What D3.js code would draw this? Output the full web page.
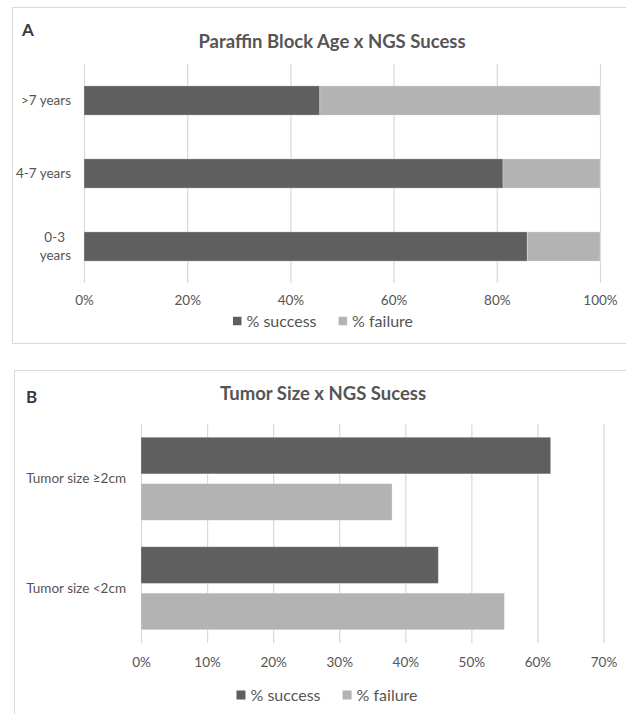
<!DOCTYPE html>
<html>
<head>
<meta charset="utf-8">
<script src="https://cdn.jsdelivr.net/npm/d3@7"></script>
<style>
  html, body { margin: 0; padding: 0; background: #fff; }
  svg { display: block; font-family: Lato, "Open Sans", sans-serif; }
</style>
</head>
<body>
<svg id="chart" width="626" height="714"></svg>
<script>
// ---- Panel A: paraffin block age ----
const ageCategories = [">7 years", "4-7 years", "0-3 years"];
const ageTickLabels = [[">7 years"], ["4-7 years"], ["0-3", "years"]];
const ageSuccess = [45.7, 81.2, 85.9];
const ageFailure = [54.3, 18.8, 14.1];
const ageTicks = [0, 20, 40, 60, 80, 100];

// ---- Panel B: tumor size ----
const sizeCategories = ["Tumor size \u22652cm", "Tumor size <2cm"];
const sizeSuccess = [62, 45];
const sizeFailure = [38, 55];
const sizeTicks = [0, 10, 20, 30, 40, 50, 60, 70];

const seriesNames = ["% success", "% failure"];
const seriesColors = ["#5f5f5f", "#b3b3b3"];

const svg = d3.select("#chart");
const textColor = "#555555";
const gridColor = "#d9d9d9";
const pct = d => d + "%";

// panel frames
svg.append("rect").attr("x", 12.5).attr("y", 7.5).attr("width", 630).attr("height", 336)
  .attr("fill", "none").attr("stroke", gridColor);
svg.append("rect").attr("x", 14.5).attr("y", 370.5).attr("width", 630).attr("height", 400)
  .attr("fill", "none").attr("stroke", gridColor);

function header(letter, title, lx, ly, tx, ty) {
  svg.append("text").attr("x", lx).attr("y", ly).attr("dy", "0.35em")
    .attr("font-size", 17).attr("font-weight", 700).attr("fill", "#3a3a3a").text(letter);
  svg.append("text").attr("x", tx).attr("y", ty).attr("dy", "0.35em").attr("text-anchor", "middle")
    .attr("font-size", 18.5).attr("font-weight", 700).attr("fill", textColor).text(title);
}

function gridAndTicks(g, x, ticks, yTop, yBottom, pad) {
  const ax = g.append("g").attr("transform", `translate(0,${yBottom})`)
    .call(d3.axisBottom(x).tickValues(ticks).tickFormat(pct)
      .tickSizeInner(-(yBottom - yTop)).tickSizeOuter(0).tickPadding(pad));
  ax.select(".domain").remove();
  ax.selectAll(".tick line").attr("stroke", gridColor).attr("stroke-width", 1.2);
  ax.selectAll(".tick text").attr("fill", textColor).attr("font-size", 13.5)
    .attr("font-family", "Lato, 'Open Sans', sans-serif");
}

function legend(cx, cy, sq) {
  const g = svg.append("g");
  const items = g.selectAll("g").data(seriesNames).join("g");
  items.append("rect").attr("width", sq).attr("height", sq).attr("y", cy - sq / 2)
    .attr("fill", (d, i) => seriesColors[i]);
  items.append("text").attr("x", sq + 5).attr("y", cy).attr("dy", "0.35em")
    .attr("font-size", 16).attr("fill", textColor).text(d => d);
  let pos = 0;
  const offsets = [];
  items.each(function () {
    offsets.push(pos);
    pos += this.getBBox().width + 22;
  });
  const total = pos - 22;
  items.attr("transform", (d, i) => `translate(${cx - total / 2 + offsets[i]},0)`);
}

// ---------- Panel A ----------
header("A", "Paraffin Block Age x NGS Sucess", 22, 30, 332, 42);
{
  const g = svg.append("g");
  const x = d3.scaleLinear().domain([0, 100]).range([84, 600]);
  const y = d3.scaleBand().domain(ageCategories).range([64, 283])
    .paddingInner(0.6).paddingOuter(0.3);

  gridAndTicks(g, x, ageTicks, 64, 283, 12);

  const rows = ageCategories.map((c, i) => ({ cat: c, success: ageSuccess[i], failure: ageFailure[i] }));
  const stacked = d3.stack().keys(["success", "failure"])(rows);
  g.selectAll("g.series").data(stacked).join("g").attr("class", "series")
    .attr("fill", (d, i) => seriesColors[i])
    .selectAll("rect").data(d => d).join("rect")
    .attr("x", d => x(d[0]))
    .attr("width", d => x(d[1]) - x(d[0]))
    .attr("y", d => y(d.data.cat))
    .attr("height", y.bandwidth())
    .attr("stroke", "#ffffff").attr("stroke-opacity", 0.35).attr("stroke-width", 0.8);

  const yAx = g.append("g").attr("transform", "translate(84,0)")
    .call(d3.axisLeft(y).tickSize(0).tickPadding(13));
  yAx.select(".domain").remove();
  yAx.selectAll(".tick text").each(function (d, i) {
    const lines = ageTickLabels[i];
    const t = d3.select(this).text(null)
      .attr("fill", textColor).attr("font-size", 13.5)
      .attr("font-family", "Lato, 'Open Sans', sans-serif");
    if (lines.length === 1) {
      t.text(lines[0]);
    } else {
      t.attr("dy", null);
      lines.forEach((ln, k) => {
        t.append("tspan").attr("x", -13 - (k === 0 ? 6 : 0))
          .attr("dy", k === 0 ? "-0.3em" : "1.3em").text(ln);
      });
    }
  });

  legend(323, 321, 8.5);
}

// ---------- Panel B ----------
header("B", "Tumor Size x NGS Sucess", 26, 397, 323, 394);
{
  const g = svg.append("g");
  const x = d3.scaleLinear().domain([0, 70]).range([141, 603.5]);
  const y = d3.scaleBand().domain(sizeCategories).range([424, 643])
    .paddingInner(0.242).paddingOuter(0.121);
  const ySub = d3.scaleBand().domain(seriesNames).range([0, y.bandwidth()]).paddingInner(0.21);

  gridAndTicks(g, x, sizeTicks, 424, 643, 14);

  const rows = sizeCategories.map((c, i) => ({ cat: c, vals: [sizeSuccess[i], sizeFailure[i]] }));
  g.selectAll("g.group").data(rows).join("g").attr("class", "group")
    .attr("transform", d => `translate(0,${y(d.cat)})`)
    .selectAll("rect").data(d => d.vals.map((v, i) => ({ key: seriesNames[i], v, i })))
    .join("rect")
    .attr("x", x(0))
    .attr("width", d => x(d.v) - x(0))
    .attr("y", d => ySub(d.key))
    .attr("height", ySub.bandwidth())
    .attr("fill", d => seriesColors[d.i])
    .attr("stroke", "#ffffff").attr("stroke-opacity", 0.35).attr("stroke-width", 0.8);

  const yAx = g.append("g").attr("transform", "translate(141,0)")
    .call(d3.axisLeft(y).tickSize(0).tickPadding(15));
  yAx.select(".domain").remove();
  yAx.selectAll(".tick text").attr("fill", textColor).attr("font-size", 13.5)
    .attr("font-family", "Lato, 'Open Sans', sans-serif");

  legend(327, 695, 9);
}
</script>
</body>
</html>
